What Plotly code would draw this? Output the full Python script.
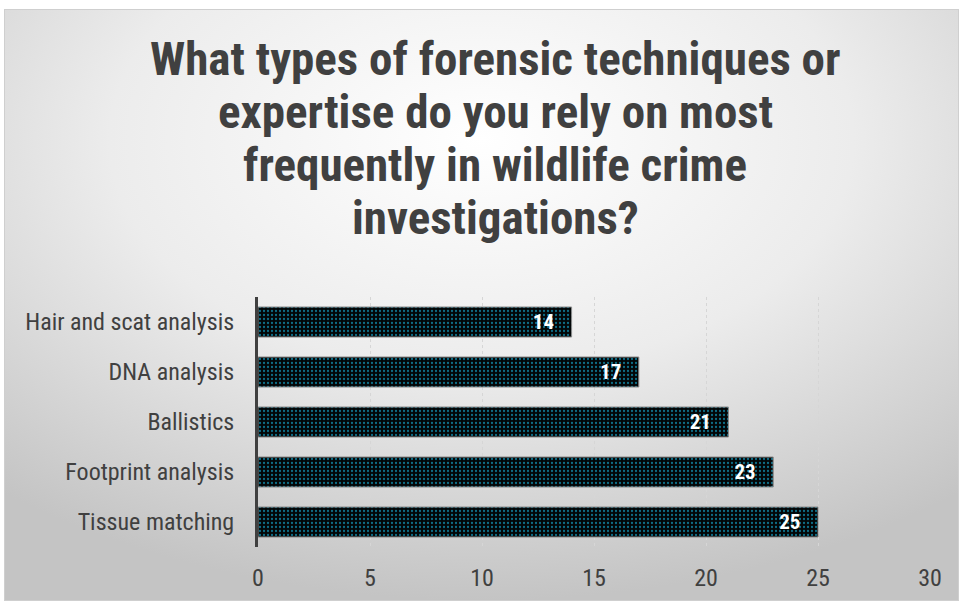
import base64
import plotly.graph_objects as go

# Survey responses: forensic techniques relied on most in wildlife crime work
techniques = ["Tissue matching", "Footprint analysis", "Ballistics", "DNA analysis", "Hair and scat analysis"]
responses = [25, 23, 21, 17, 14]
x_ticks = [0, 5, 10, 15, 20, 25, 30]

title_lines = [
    "What types of forensic techniques or",
    "expertise do you rely on most",
    "frequently in wildlife crime",
    "investigations?",
]

FONT = "Arial Narrow, Roboto Condensed, sans-serif"

# Plot-area geometry in pixels (used to place the title lines and backdrop)
W, H = 963, 604
L, R, T, B = 258, 33, 297, 57
PW, PH = W - L - R, H - T - B

# Radial gradient backdrop (bright centre near the top, grey edges)
svg = f"""<svg xmlns='http://www.w3.org/2000/svg' width='{W}' height='{H}'>
<defs><radialGradient id='g' cx='0.5' cy='0.22' r='0.78'>
<stop offset='0' stop-color='#ffffff'/>
<stop offset='0.5' stop-color='#ececec'/>
<stop offset='1' stop-color='#c4c4c4'/>
</radialGradient></defs>
<rect x='0' y='0' width='{W}' height='{H}' fill='white'/>
<rect x='4.5' y='9.5' width='954' height='591' fill='url(#g)' stroke='#cfcfcf' stroke-width='1'/>
</svg>"""
bg_uri = "data:image/svg+xml;base64," + base64.b64encode(svg.encode()).decode()

# Value labels padded so they sit a little in from the bar ends
labels = [f"{v}\u00a0\u00a0\u00a0" for v in responses]

fig = go.Figure(
    go.Bar(
        y=techniques,
        x=responses,
        orientation="h",
        marker=dict(
            color="#000000",
            line=dict(color="#8a8a8a", width=1),
            pattern=dict(shape=".", fgcolor="#0f6d85", bgcolor="#020607",
                         size=4, solidity=0.25, fillmode="replace"),
        ),
        text=labels,
        textposition="inside",
        insidetextanchor="end",
        textangle=0,
        constraintext="none",
        textfont=dict(family=FONT, size=21, color="white", weight="bold"),
        cliponaxis=False,
    )
)

# Title drawn line by line for tight line spacing
line_centres = [58, 111, 164, 217]
for txt, py in zip(title_lines, line_centres):
    fig.add_annotation(
        text=txt, xref="paper", yref="paper",
        x=(495 - L) / PW, y=(H - B - py) / PH,
        xanchor="center", yanchor="middle", showarrow=False,
        font=dict(family=FONT, size=47, color="#404040", weight="bold"),
    )

fig.update_layout(
    width=W,
    height=H,
    margin=dict(l=L, r=R, t=T, b=B),
    paper_bgcolor="white",
    plot_bgcolor="rgba(0,0,0,0)",
    bargap=0.4,
    showlegend=False,
    images=[dict(source=bg_uri, xref="paper", yref="paper", x=-L / PW, y=1 + T / PH,
                 sizex=W / PW, sizey=H / PH, sizing="stretch",
                 xanchor="left", yanchor="top", layer="below")],
    xaxis=dict(
        range=[0, 30],
        tickvals=x_ticks,
        showgrid=True,
        gridcolor="#d6d6d6",
        gridwidth=1,
        griddash="dot",
        zeroline=False,
        showline=False,
        ticks="",
        tickfont=dict(family=FONT, size=24, color="#404040"),
        ticklabelstandoff=14,
        fixedrange=True,
    ),
    yaxis=dict(
        showgrid=False,
        showline=True,
        linecolor="#404040",
        linewidth=3,
        ticks="",
        ticklabelstandoff=16,
        tickfont=dict(family=FONT, size=24, color="#404040"),
        fixedrange=True,
    ),
)

fig.write_html("out.html")
